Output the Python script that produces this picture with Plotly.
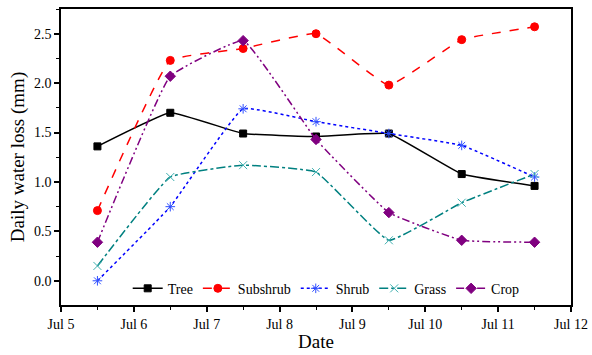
import plotly.graph_objects as go

dates = ["2013-07-05 12:00", "2013-07-06 12:00", "2013-07-07 12:00", "2013-07-08 12:00",
         "2013-07-09 12:00", "2013-07-10 12:00", "2013-07-11 12:00"]
tree = [1.36, 1.70, 1.49, 1.46, 1.49, 1.08, 0.96]
subshrub = [0.71, 2.23, 2.35, 2.50, 1.98, 2.44, 2.57]
shrub = [0.00, 0.75, 1.74, 1.61, 1.49, 1.37, 1.05]
grass = [0.15, 1.05, 1.17, 1.10, 0.41, 0.79, 1.08]
crop = [0.39, 2.07, 2.43, 1.43, 0.69, 0.41, 0.39]

series = [
    ("Tree", tree, "black", "solid", "square", "black", 7),
    ("Subshrub", subshrub, "red", "dash", "circle", "red", 8),
    ("Shrub", shrub, "blue", "dot", "asterisk-open", "#3050ff", 8),
    ("Grass", grass, "#008080", "dashdot", "x-thin-open", "#40b0b0", 8),
    ("Crop", crop, "#800080", "8px,3px,2px,3px,2px,3px", "diamond", "#800080", 8),
]

font = "Liberation Serif, Times New Roman, serif"

fig = go.Figure()
for name, vals, color, dash, sym, mcolor, size in series:
    fig.add_trace(go.Scatter(
        x=dates, y=vals, name=name, mode="lines+markers",
        line=dict(color=color, dash=dash, width=1.5, shape="spline", smoothing=0.3),
        marker=dict(symbol=sym, color=mcolor, size=size, line=dict(color=mcolor, width=1)),
    ))

fig.update_layout(
    width=592, height=355,
    margin=dict(l=61, r=21, t=9, b=50),
    plot_bgcolor="white", paper_bgcolor="white",
    font=dict(family=font, size=14, color="black"),
    legend=dict(orientation="h", x=0.52, y=0.055, xanchor="center", yanchor="middle",
                bgcolor="rgba(0,0,0,0)", font=dict(family=font, size=14, color="black"),
                itemwidth=30, tracegroupgap=0),
    showlegend=True,
)
fig.update_xaxes(
    type="date", range=["2013-07-05", "2013-07-12"], automargin=False,
    dtick=86400000, tick0="2013-07-05", tickformat="%b %-d",
    ticks="outside", ticklen=5, tickwidth=1.5, tickcolor="black",
    minor=dict(dtick=43200000, ticks="outside", ticklen=3, tickcolor="black", tickwidth=1),
    showline=True, linecolor="black", linewidth=1.5, mirror=True,
    showgrid=False, zeroline=False, ticklabeloverflow="allow",
    title=dict(text="Date", font=dict(family=font, size=19, color="black"), standoff=4),
    tickfont=dict(family=font, size=14, color="black"),
)
fig.update_yaxes(
    range=[-0.245, 2.75], dtick=0.5, tick0=0, tickformat=".1f", automargin=False,
    ticks="outside", ticklen=5, tickwidth=1.5, tickcolor="black",
    minor=dict(dtick=0.25, ticks="outside", ticklen=3, tickcolor="black", tickwidth=1),
    showline=True, linecolor="black", linewidth=1.5, mirror=True,
    showgrid=False, zeroline=False,
    title=dict(text="Daily water loss (mm)", font=dict(family=font, size=19, color="black"), standoff=4),
    tickfont=dict(family=font, size=14, color="black"),
)
fig.write_html("out.html", config={"displayModeBar": False},
               post_script="document.body.style.margin='0';")
